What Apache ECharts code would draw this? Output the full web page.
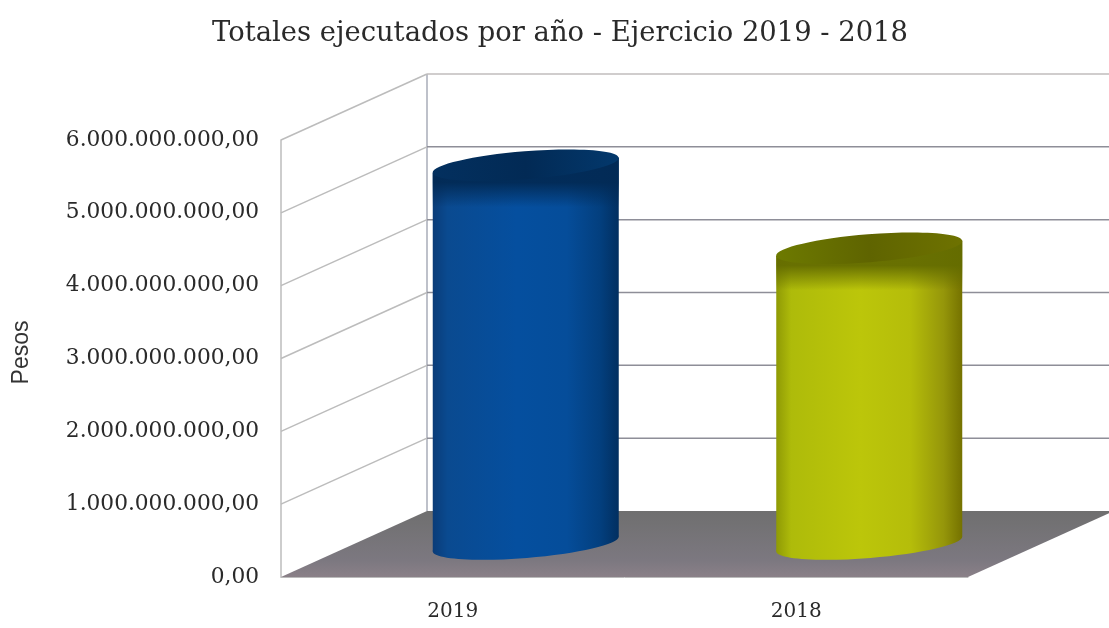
<!DOCTYPE html>
<html><head><meta charset="utf-8">
<style>html,body{margin:0;padding:0;background:#fff}#c{width:1109px;height:628px}</style>
<script src="https://cdn.jsdelivr.net/npm/echarts@6/dist/echarts.min.js"></script>
</head><body><div id="c"></div>
<script>
const categories = ['2019', '2018'];
const values = [5200000000, 4060000000];
const tickValues = [0, 1000000000, 2000000000, 3000000000, 4000000000, 5000000000, 6000000000];
const tickLabels = ['0,00', '1.000.000.000,00', '2.000.000.000,00', '3.000.000.000,00', '4.000.000.000,00', '5.000.000.000,00', '6.000.000.000,00'];
const titleText = 'Totales ejecutados por año - Ejercicio 2019 - 2018';
const axisTitle = 'Pesos';
const palettes = [
  {side:['#0a3c78','#0a4a90','#054f9f','#054d9a','#033f7e','#022f60'], top:['#03305f','#022a55','#03386c'], shade:'rgba(2,42,85,0.95)'},
  {side:['#8f9a05','#aebb0a','#bcc60a','#b5bd0a','#95960a','#757200'], top:['#6d7a00','#5f6400','#6e7200'], shade:'rgba(100,108,0,0.95)'}
];
const DX = 146, DY = -66, HALF = 93, RY = 14, ROT = 4.6 * Math.PI / 180;
const chart = echarts.init(document.getElementById('c'), null, {renderer:'canvas'});
function hGrad(c){return new echarts.graphic.LinearGradient(0,0,1,0,[
  {offset:0,color:c[0]},{offset:.08,color:c[1]},{offset:.45,color:c[2]},{offset:.72,color:c[3]},{offset:.9,color:c[4]},{offset:1,color:c[5]}]);}
chart.setOption({
  animation:false,
  backgroundColor:'#fff',
  title:{text:titleText,left:555,top:15,textAlign:'center',textStyle:{fontFamily:'DejaVu Serif',fontWeight:'normal',fontSize:27.4,color:'#2a2a2a'}},
  grid:{left:281,right:141,top:140,bottom:51,containLabel:false},
  xAxis:{type:'category',data:categories,axisLine:{show:true,lineStyle:{color:'#bbb',width:1}},axisTick:{show:false},
    axisLabel:{margin:25,fontFamily:'DejaVu Serif',fontSize:20,color:'#2a2a2a'}},
  yAxis:{type:'value',min:0,max:6000000000,interval:1000000000,splitLine:{show:false},axisTick:{show:false},
    axisLine:{show:true,lineStyle:{color:'#bcbcbc',width:1.5}},
    axisLabel:{margin:22,padding:[3,0,0,0],fontFamily:'DejaVu Serif',fontSize:21.7,color:'#2a2a2a',formatter:v=>tickLabels[tickValues.indexOf(v)]},
    name:axisTitle,nameLocation:'middle',nameGap:248,nameTextStyle:{fontFamily:'Liberation Sans',fontSize:23,color:'#333',padding:[0,0,0,12]}},
  series:[
    {type:'custom',z:1,clip:false,data:tickValues,encode:{y:0},
      renderItem(p,api){
        const v=api.value(0), band=api.size([1,0])[0];
        const a=api.coord([0,v]), b=api.coord([1,v]);
        const l=a[0]-band/2, r=b[0]+band/2, y=a[1];
        const ch=[];
        if(v===0){
          ch.push({type:'polygon',shape:{points:[[l,y],[r,y],[r+DX,y+DY],[l+DX,y+DY]]},
            style:{fill:new echarts.graphic.LinearGradient(0,0,0,1,[{offset:0,color:'#6f6f6f'},{offset:.75,color:'#7c7880'},{offset:1,color:'#8a8088'}])}});
          const t=api.coord([0,6000000000]);
          ch.push({type:'line',shape:{x1:l+DX,y1:y+DY,x2:l+DX,y2:t[1]+DY},style:{stroke:'#a8adb8',lineWidth:1.5}});
        } else {
          ch.push({type:'line',shape:{x1:l,y1:y,x2:l+DX,y2:y+DY},style:{stroke:'#bcbcbc',lineWidth:1.5}});
          ch.push({type:'line',shape:{x1:l+DX,y1:y+DY,x2:r+DX,y2:y+DY},style:{stroke:v===6000000000?'#c0bcbc':'#8e8e98',lineWidth:1.5}});
        }
        return {type:'group',children:ch};
      }},
    {type:'custom',z:3,clip:false,data:values.map((v,i)=>[i,v]),encode:{x:0,y:1},
      renderItem(p,api){
        const i=api.value(0), v=api.value(1), pal=palettes[i];
        const t=api.coord([i,v]), b=api.coord([i,0]);
        const cx=t[0]+DX/2, ty=t[1]+DY/2, by=b[1]+DY/2;
        const sl=HALF*Math.tan(ROT);
        const ell=(y,fill)=>({type:'ellipse',shape:{cx:cx,cy:y,rx:HALF/Math.cos(ROT),ry:RY},rotation:ROT,originX:cx,originY:y,style:{fill}});
        const topFill=new echarts.graphic.LinearGradient(0,0,1,0,[{offset:0,color:pal.top[0]},{offset:.5,color:pal.top[1]},{offset:1,color:pal.top[2]}]);
        return {type:'group',children:[
          ell(by,hGrad(pal.side)),
          {type:'polygon',shape:{points:[[cx-HALF,ty+sl],[cx+HALF,ty-sl],[cx+HALF,by-sl],[cx-HALF,by+sl]]},style:{fill:hGrad(pal.side)}},
          {type:'polygon',shape:{points:[[cx-HALF,ty+sl],[cx+HALF,ty-sl],[cx+HALF,ty+sl+40],[cx-HALF,ty+sl+40]]},
            style:{fill:new echarts.graphic.LinearGradient(0,0,0,1,[{offset:0,color:pal.shade},{offset:.45,color:pal.shade},{offset:.9,color:pal.shade.replace(/[\d.]+\)$/,'0)')},{offset:1,color:pal.shade.replace(/[\d.]+\)$/,'0)')}])}},
          ell(ty,topFill)
        ]};
      }}
  ]
});
</script></body></html>
